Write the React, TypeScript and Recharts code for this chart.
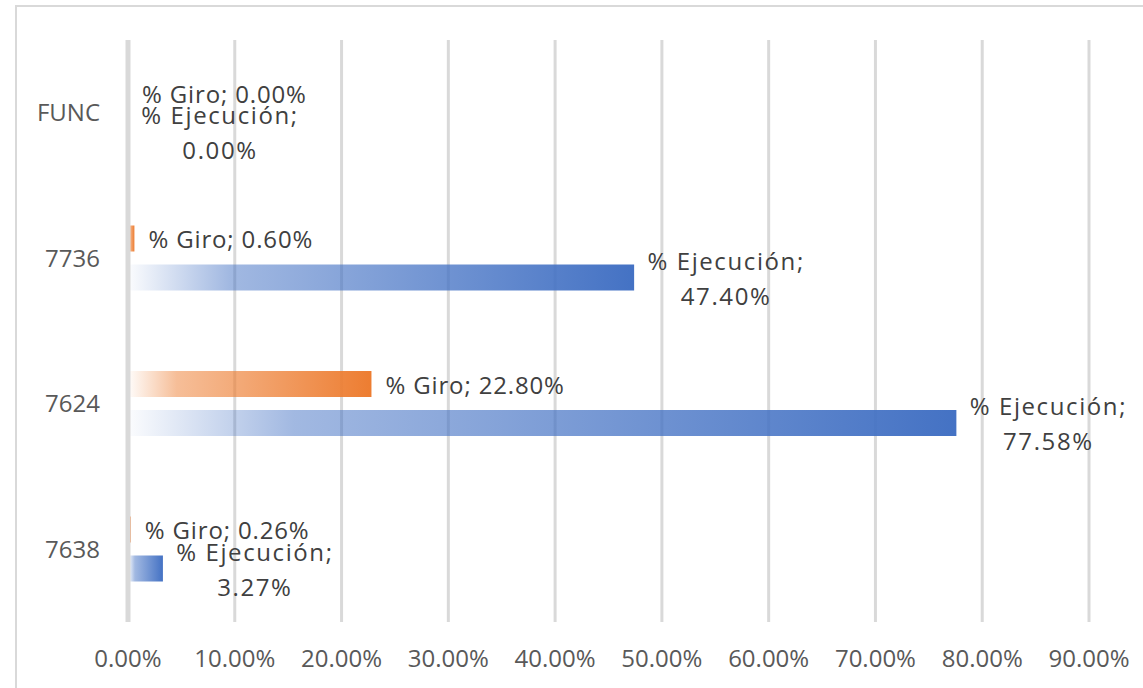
import { Bar, BarChart, CartesianGrid, LabelList, XAxis, YAxis } from 'recharts'

const categories = ['FUNC', '7736', '7624', '7638']
const giro = [0, 0.6, 22.8, 0.26]
const ejecucion = [0, 47.4, 77.58, 3.27]
const xTicks = [0, 10, 20, 30, 40, 50, 60, 70, 80, 90]

const BLUE = '#4472C4'
const ORANGE = '#ED7D31'
const FONT = '"Open Sans", sans-serif'

const data = categories.map((name, i) => ({ name, giro: giro[i], ejecucion: ejecucion[i] }))

const pct = (v: number) => `${v.toFixed(2)}%`

function EjecucionLabel(props: any) {
  const { x, y, width, height, value } = props
  const cx = x + width + 92
  const cy = y + height / 2
  return (
    <text
      x={cx}
      y={cy}
      textAnchor="middle"
      fill="#404040"
      fontSize={24}
      fontFamily={FONT}
      letterSpacing={1.6}
    >
      <tspan x={cx} dy={-17.5} dominantBaseline="central">% Ejecución;</tspan>
      <tspan x={cx} dy={35} dominantBaseline="central">{pct(Number(value))}</tspan>
    </text>
  )
}

function GiroLabel(props: any) {
  const { x, y, width, height, value } = props
  return (
    <text
      x={x + width + 14}
      y={y + height / 2}
      dominantBaseline="central"
      fill="#404040"
      fontSize={24}
      fontFamily={FONT}
      letterSpacing={0.85}
    >
      % Giro; {pct(Number(value))}
    </text>
  )
}

export default function App() {
  return (
    <div
      style={{
        position: 'absolute',
        left: 15,
        top: 5,
        width: 1126,
        height: 681,
        borderTop: '2px solid #d9d9d9',
        borderLeft: '2px solid #d9d9d9',
        background: '#fff',
      }}
    >
      <BarChart
        width={1126}
        height={681}
        data={data}
        layout="vertical"
        margin={{ top: 33, right: 54, bottom: 0, left: 0 }}
        barSize={26}
        barGap={13}
      >
        <defs>
          <linearGradient id="gradGiro" x1="0" y1="0" x2="1" y2="0">
            <stop offset="0%" stopColor={ORANGE} stopOpacity={0.02} />
            <stop offset="20%" stopColor={ORANGE} stopOpacity={0.5} />
            <stop offset="100%" stopColor={ORANGE} stopOpacity={1} />
          </linearGradient>
          <linearGradient id="gradEjec" x1="0" y1="0" x2="1" y2="0">
            <stop offset="0%" stopColor={BLUE} stopOpacity={0.02} />
            <stop offset="20%" stopColor={BLUE} stopOpacity={0.5} />
            <stop offset="100%" stopColor={BLUE} stopOpacity={1} />
          </linearGradient>
        </defs>
        <CartesianGrid horizontal={false} stroke="#d9d9d9" strokeWidth={3} />
        <XAxis
          type="number"
          domain={[0, 90]}
          ticks={xTicks}
          tickFormatter={pct}
          axisLine={false}
          tickLine={false}
          tickSize={0}
          tickMargin={28}
          height={66}
          interval={0}
          tick={{ fill: '#595959', fontSize: 24, fontFamily: FONT }}
        />
        <YAxis
          type="category"
          dataKey="name"
          width={111}
          axisLine={{ stroke: '#d9d9d9', strokeWidth: 5 }}
          tickLine={false}
          tickSize={0}
          tickMargin={28}
          tick={{ fill: '#595959', fontSize: 24, fontFamily: FONT }}
        />
        <Bar dataKey="giro" fill="url(#gradGiro)" minPointSize={0.01} isAnimationActive={false}>
          <LabelList dataKey="giro" content={<GiroLabel />} />
        </Bar>
        <Bar dataKey="ejecucion" fill="url(#gradEjec)" minPointSize={0.01} isAnimationActive={false}>
          <LabelList dataKey="ejecucion" content={<EjecucionLabel />} />
        </Bar>
      </BarChart>
    </div>
  )
}
